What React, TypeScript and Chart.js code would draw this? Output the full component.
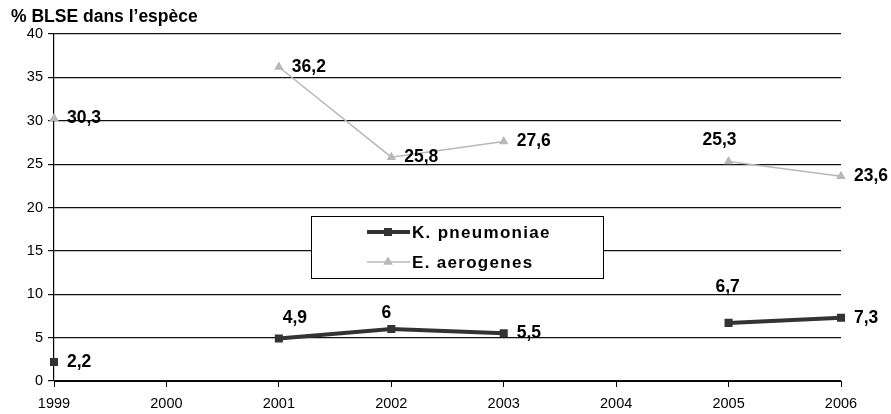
import React, { useEffect, useRef } from "react";
import { Chart, registerables } from "chart.js";

Chart.register(...registerables);

const years = ["1999", "2000", "2001", "2002", "2003", "2004", "2005", "2006"];
const kPneumoniae = [2.2, null, 4.9, 6, 5.5, null, 6.7, 7.3];
const eAerogenes = [30.3, null, 36.2, 25.8, 27.6, null, 25.3, 23.6];
const seriesNames = ["K. pneumoniae", "E. aerogenes"];
const yTitle = "% BLSE dans l\u2019espèce";

// label placement styles (per point), not data
const kLabelPlace = ["right", "", "aboveRight", "above", "right", "", "high", "right"];
const eLabelPlace = ["right", "", "right", "right", "right", "", "aboveLeft", "right"];

const FONT = 'Arial, "Liberation Sans", Helvetica, sans-serif';

const fmt = (v: number) => String(v).replace(".", ",");

const placeOffsets: Record<string, [number, number, CanvasTextAlign]> = {
  right: [13, 0, "left"],
  aboveRight: [16, -20, "center"],
  above: [-5, -16, "center"],
  aboveLeft: [-9, -21, "center"],
  high: [-1, -36, "center"],
};

function drawMarker(ctx: CanvasRenderingContext2D, style: string, x: number, y: number, r: number, color: string) {
  ctx.save();
  ctx.fillStyle = color;
  ctx.beginPath();
  if (style === "rect") {
    const s = Math.SQRT1_2 * r;
    ctx.rect(x - s, y - s, 2 * s, 2 * s);
  } else {
    let rad = 0;
    ctx.moveTo(x + Math.sin(rad) * r, y - Math.cos(rad) * r);
    rad += (2 * Math.PI) / 3;
    ctx.lineTo(x + Math.sin(rad) * r, y - Math.cos(rad) * r);
    rad += (2 * Math.PI) / 3;
    ctx.lineTo(x + Math.sin(rad) * r, y - Math.cos(rad) * r);
    ctx.closePath();
  }
  ctx.fill();
  ctx.restore();
}

const overlayPlugin = {
  id: "overlay",
  afterDraw(chart: any) {
    const ctx: CanvasRenderingContext2D = chart.ctx;
    const area = chart.chartArea;
    // title
    ctx.save();
    ctx.fillStyle = "#000";
    ctx.font = `bold 17.5px ${FONT}`;
    ctx.textAlign = "left";
    ctx.textBaseline = "middle";
    ctx.fillText(yTitle, 11, 17);
    ctx.restore();

    // data labels
    const places = [kLabelPlace, eLabelPlace];
    chart.data.datasets.forEach((ds: any, di: number) => {
      const meta = chart.getDatasetMeta(di);
      meta.data.forEach((pt: any, i: number) => {
        const v = ds.data[i];
        if (v === null || v === undefined) return;
        const off = placeOffsets[places[di][i]] || placeOffsets.right;
        ctx.save();
        ctx.fillStyle = "#000";
        ctx.font = `bold 17.5px ${FONT}`;
        ctx.textAlign = off[2];
        ctx.textBaseline = "middle";
        ctx.fillText(fmt(v), pt.x + off[0], pt.y + off[1]);
        ctx.restore();
      });
    });

    // legend box inside chart area
    const w = area.right - area.left;
    const h = area.bottom - area.top;
    const lx = area.left + w * 0.3266;
    const ly = area.top + h * 0.5245;
    const lw = 292;
    const lh = 62;
    ctx.save();
    ctx.fillStyle = "#fff";
    ctx.fillRect(lx, ly, lw, lh);
    ctx.strokeStyle = "#000";
    ctx.lineWidth = 1;
    ctx.strokeRect(Math.round(lx) + 0.5, Math.round(ly) + 0.5, lw, lh);
    chart.data.datasets.forEach((ds: any, di: number) => {
      const iy = ly + 16 + di * 30;
      ctx.strokeStyle = ds.borderColor;
      ctx.lineWidth = ds.borderWidth;
      ctx.beginPath();
      ctx.moveTo(lx + 56, iy);
      ctx.lineTo(lx + 99, iy);
      ctx.stroke();
      drawMarker(ctx, ds.pointStyle, lx + 77, iy, ds.pointRadius, ds.backgroundColor);
      ctx.fillStyle = "#000";
      ctx.font = `bold 17px ${FONT}`;
      (ctx as any).letterSpacing = "1.3px";
      ctx.textAlign = "left";
      ctx.textBaseline = "middle";
      ctx.fillText(seriesNames[di], lx + 101, iy + 1);
      (ctx as any).letterSpacing = "0px";
    });
    ctx.restore();
  },
};

export default function App() {
  const ref = useRef<HTMLCanvasElement>(null);
  useEffect(() => {
    document.body.style.margin = "0";
    const canvas = ref.current!;
    const chart = new Chart(canvas, {
      type: "line",
      data: {
        labels: years,
        datasets: [
          {
            label: seriesNames[0],
            data: kPneumoniae,
            borderColor: "#333333",
            backgroundColor: "#333333",
            borderWidth: 4,
            pointStyle: "rect",
            pointRadius: 5.7,
            pointBorderWidth: 0,
            spanGaps: false,
          },
          {
            label: seriesNames[1],
            data: eAerogenes,
            borderColor: "#b8b8b8",
            backgroundColor: "#b8b8b8",
            borderWidth: 1.5,
            pointStyle: "triangle",
            pointRadius: 5.5,
            pointBorderWidth: 0,
            spanGaps: false,
          },
        ],
      },
      options: {
        animation: false,
        responsive: false,
        maintainAspectRatio: false,
        layout: { padding: { top: 34, right: 50, left: 0, bottom: 0 } },
        plugins: { legend: { display: false }, tooltip: { enabled: false }, title: { display: false } },
        scales: {
          x: {
            type: "category",
            offset: false,
            grid: { display: true, drawOnChartArea: false, drawTicks: true, tickLength: 6, color: "#000" },
            border: { color: "#000", width: 1 },
            ticks: { color: "#000", font: { family: FONT, size: 14.5 }, padding: 8, maxRotation: 0, autoSkip: false },
            afterFit: (s: any) => { s.height = 33; },
          },
          y: {
            min: 0,
            max: 40,
            ticks: { stepSize: 5, color: "#000", font: { family: FONT, size: 14.5 }, padding: 5 },
            grid: { color: "#111", lineWidth: 1.2, tickLength: 6 },
            border: { color: "#000", width: 1.2 },
            afterFit: (s: any) => { s.width = 54; },
          },
        },
      },
      plugins: [overlayPlugin],
    } as any);
    return () => chart.destroy();
  }, []);
  return (
    <div style={{ width: 891, height: 414 }}>
      <canvas ref={ref} width={891} height={414} style={{ display: "block" }} />
    </div>
  );
}
